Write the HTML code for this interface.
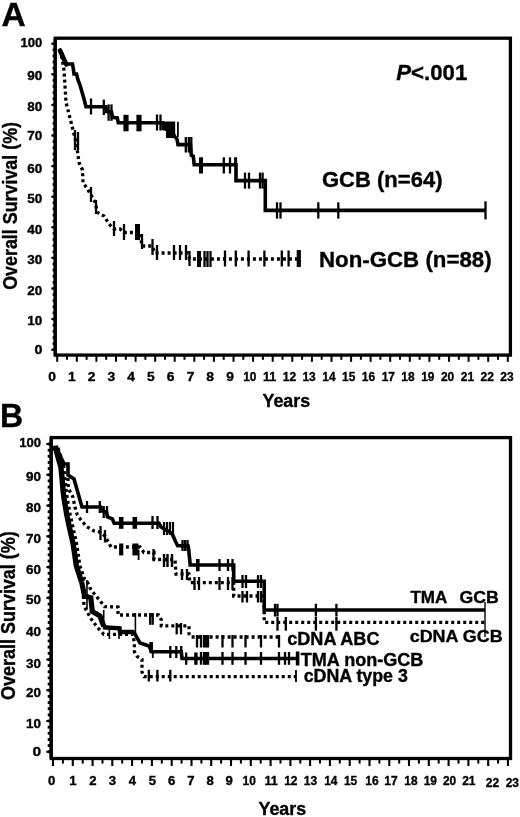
<!DOCTYPE html>
<html><head><meta charset="utf-8"><title>Overall survival</title>
<style>
html,body{margin:0;padding:0;background:#fff;}
svg{display:block;will-change:transform;}
text{font-family:"Liberation Sans",sans-serif;font-weight:bold;fill:#000;stroke:#000;stroke-width:0.35px;}
</style></head>
<body>
<svg width="520" height="817" viewBox="0 0 520 817">
<rect width="520" height="817" fill="#fff"/>
<text x="1.4" y="26.4" font-size="32.5" text-anchor="start" textLength="24.2" lengthAdjust="spacingAndGlyphs">A</text>
<rect x="55.3" y="38.2" width="455.09999999999997" height="316.90000000000003" fill="none" stroke="#000" stroke-width="3.3"/>
<line x1="54.6" y1="38.2" x2="54.6" y2="355.1" stroke="#000" stroke-width="2"/>
<line x1="51.3" y1="349.7" x2="55.3" y2="349.7" stroke="#000" stroke-width="2"/>
<text x="42.3" y="353.7" font-size="13" text-anchor="end" textLength="7.9" lengthAdjust="spacingAndGlyphs">0</text>
<line x1="51.3" y1="319.1" x2="55.3" y2="319.1" stroke="#000" stroke-width="2"/>
<text x="42.3" y="325.4" font-size="13" text-anchor="end" textLength="15.0" lengthAdjust="spacingAndGlyphs">10</text>
<line x1="51.3" y1="288.5" x2="55.3" y2="288.5" stroke="#000" stroke-width="2"/>
<text x="42.3" y="295.2" font-size="13" text-anchor="end" textLength="15.0" lengthAdjust="spacingAndGlyphs">20</text>
<line x1="51.3" y1="257.9" x2="55.3" y2="257.9" stroke="#000" stroke-width="2"/>
<text x="42.3" y="264.3" font-size="13" text-anchor="end" textLength="15.0" lengthAdjust="spacingAndGlyphs">30</text>
<line x1="51.3" y1="227.3" x2="55.3" y2="227.3" stroke="#000" stroke-width="2"/>
<text x="42.3" y="233.7" font-size="13" text-anchor="end" textLength="15.0" lengthAdjust="spacingAndGlyphs">40</text>
<line x1="51.3" y1="196.7" x2="55.3" y2="196.7" stroke="#000" stroke-width="2"/>
<text x="42.3" y="202.7" font-size="13" text-anchor="end" textLength="15.0" lengthAdjust="spacingAndGlyphs">50</text>
<line x1="51.3" y1="166.1" x2="55.3" y2="166.1" stroke="#000" stroke-width="2"/>
<text x="42.3" y="173.1" font-size="13" text-anchor="end" textLength="15.0" lengthAdjust="spacingAndGlyphs">60</text>
<line x1="51.3" y1="135.5" x2="55.3" y2="135.5" stroke="#000" stroke-width="2"/>
<text x="42.3" y="139.9" font-size="13" text-anchor="end" textLength="15.0" lengthAdjust="spacingAndGlyphs">70</text>
<line x1="51.3" y1="104.9" x2="55.3" y2="104.9" stroke="#000" stroke-width="2"/>
<text x="42.3" y="110.9" font-size="13" text-anchor="end" textLength="15.0" lengthAdjust="spacingAndGlyphs">80</text>
<line x1="51.3" y1="74.3" x2="55.3" y2="74.3" stroke="#000" stroke-width="2"/>
<text x="42.3" y="80.1" font-size="13" text-anchor="end" textLength="15.0" lengthAdjust="spacingAndGlyphs">90</text>
<line x1="51.3" y1="43.7" x2="55.3" y2="43.7" stroke="#000" stroke-width="2"/>
<text x="42.3" y="47.2" font-size="13" text-anchor="end" textLength="21.8" lengthAdjust="spacingAndGlyphs">100</text>
<line x1="52.6" y1="349.7" x2="55.3" y2="349.7" stroke="#000" stroke-width="2.6"/>
<line x1="52.6" y1="343.6" x2="55.3" y2="343.6" stroke="#000" stroke-width="2.6"/>
<line x1="52.6" y1="337.5" x2="55.3" y2="337.5" stroke="#000" stroke-width="2.6"/>
<line x1="52.6" y1="331.3" x2="55.3" y2="331.3" stroke="#000" stroke-width="2.6"/>
<line x1="52.6" y1="325.2" x2="55.3" y2="325.2" stroke="#000" stroke-width="2.6"/>
<line x1="52.6" y1="319.1" x2="55.3" y2="319.1" stroke="#000" stroke-width="2.6"/>
<line x1="52.6" y1="313.0" x2="55.3" y2="313.0" stroke="#000" stroke-width="2.6"/>
<line x1="52.6" y1="306.9" x2="55.3" y2="306.9" stroke="#000" stroke-width="2.6"/>
<line x1="52.6" y1="300.7" x2="55.3" y2="300.7" stroke="#000" stroke-width="2.6"/>
<line x1="52.6" y1="294.6" x2="55.3" y2="294.6" stroke="#000" stroke-width="2.6"/>
<line x1="52.6" y1="288.5" x2="55.3" y2="288.5" stroke="#000" stroke-width="2.6"/>
<line x1="52.6" y1="282.4" x2="55.3" y2="282.4" stroke="#000" stroke-width="2.6"/>
<line x1="52.6" y1="276.3" x2="55.3" y2="276.3" stroke="#000" stroke-width="2.6"/>
<line x1="52.6" y1="270.1" x2="55.3" y2="270.1" stroke="#000" stroke-width="2.6"/>
<line x1="52.6" y1="264.0" x2="55.3" y2="264.0" stroke="#000" stroke-width="2.6"/>
<line x1="52.6" y1="257.9" x2="55.3" y2="257.9" stroke="#000" stroke-width="2.6"/>
<line x1="52.6" y1="251.8" x2="55.3" y2="251.8" stroke="#000" stroke-width="2.6"/>
<line x1="52.6" y1="245.7" x2="55.3" y2="245.7" stroke="#000" stroke-width="2.6"/>
<line x1="52.6" y1="239.5" x2="55.3" y2="239.5" stroke="#000" stroke-width="2.6"/>
<line x1="52.6" y1="233.4" x2="55.3" y2="233.4" stroke="#000" stroke-width="2.6"/>
<line x1="52.6" y1="227.3" x2="55.3" y2="227.3" stroke="#000" stroke-width="2.6"/>
<line x1="52.6" y1="221.2" x2="55.3" y2="221.2" stroke="#000" stroke-width="2.6"/>
<line x1="52.6" y1="215.1" x2="55.3" y2="215.1" stroke="#000" stroke-width="2.6"/>
<line x1="52.6" y1="208.9" x2="55.3" y2="208.9" stroke="#000" stroke-width="2.6"/>
<line x1="52.6" y1="202.8" x2="55.3" y2="202.8" stroke="#000" stroke-width="2.6"/>
<line x1="52.6" y1="196.7" x2="55.3" y2="196.7" stroke="#000" stroke-width="2.6"/>
<line x1="52.6" y1="190.6" x2="55.3" y2="190.6" stroke="#000" stroke-width="2.6"/>
<line x1="52.6" y1="184.5" x2="55.3" y2="184.5" stroke="#000" stroke-width="2.6"/>
<line x1="52.6" y1="178.3" x2="55.3" y2="178.3" stroke="#000" stroke-width="2.6"/>
<line x1="52.6" y1="172.2" x2="55.3" y2="172.2" stroke="#000" stroke-width="2.6"/>
<line x1="52.6" y1="166.1" x2="55.3" y2="166.1" stroke="#000" stroke-width="2.6"/>
<line x1="52.6" y1="160.0" x2="55.3" y2="160.0" stroke="#000" stroke-width="2.6"/>
<line x1="52.6" y1="153.9" x2="55.3" y2="153.9" stroke="#000" stroke-width="2.6"/>
<line x1="52.6" y1="147.7" x2="55.3" y2="147.7" stroke="#000" stroke-width="2.6"/>
<line x1="52.6" y1="141.6" x2="55.3" y2="141.6" stroke="#000" stroke-width="2.6"/>
<line x1="52.6" y1="135.5" x2="55.3" y2="135.5" stroke="#000" stroke-width="2.6"/>
<line x1="52.6" y1="129.4" x2="55.3" y2="129.4" stroke="#000" stroke-width="2.6"/>
<line x1="52.6" y1="123.3" x2="55.3" y2="123.3" stroke="#000" stroke-width="2.6"/>
<line x1="52.6" y1="117.1" x2="55.3" y2="117.1" stroke="#000" stroke-width="2.6"/>
<line x1="52.6" y1="111.0" x2="55.3" y2="111.0" stroke="#000" stroke-width="2.6"/>
<line x1="52.6" y1="104.9" x2="55.3" y2="104.9" stroke="#000" stroke-width="2.6"/>
<line x1="52.6" y1="98.8" x2="55.3" y2="98.8" stroke="#000" stroke-width="2.6"/>
<line x1="52.6" y1="92.7" x2="55.3" y2="92.7" stroke="#000" stroke-width="2.6"/>
<line x1="52.6" y1="86.5" x2="55.3" y2="86.5" stroke="#000" stroke-width="2.6"/>
<line x1="52.6" y1="80.4" x2="55.3" y2="80.4" stroke="#000" stroke-width="2.6"/>
<line x1="52.6" y1="74.3" x2="55.3" y2="74.3" stroke="#000" stroke-width="2.6"/>
<line x1="52.6" y1="68.2" x2="55.3" y2="68.2" stroke="#000" stroke-width="2.6"/>
<line x1="52.6" y1="62.1" x2="55.3" y2="62.1" stroke="#000" stroke-width="2.6"/>
<line x1="52.6" y1="55.9" x2="55.3" y2="55.9" stroke="#000" stroke-width="2.6"/>
<line x1="52.6" y1="49.8" x2="55.3" y2="49.8" stroke="#000" stroke-width="2.6"/>
<line x1="52.6" y1="43.7" x2="55.3" y2="43.7" stroke="#000" stroke-width="2.6"/>
<line x1="57.2" y1="355.1" x2="57.2" y2="361.8" stroke="#000" stroke-width="2"/>
<line x1="67.0" y1="355.1" x2="67.0" y2="359.8" stroke="#000" stroke-width="2"/>
<text x="52.0" y="380.5" font-size="12.5" text-anchor="middle" textLength="7.7" lengthAdjust="spacingAndGlyphs">0</text>
<line x1="76.8" y1="355.1" x2="76.8" y2="361.8" stroke="#000" stroke-width="2"/>
<line x1="86.6" y1="355.1" x2="86.6" y2="359.8" stroke="#000" stroke-width="2"/>
<text x="71.8" y="380.5" font-size="12.5" text-anchor="middle" textLength="7.7" lengthAdjust="spacingAndGlyphs">1</text>
<line x1="96.4" y1="355.1" x2="96.4" y2="361.8" stroke="#000" stroke-width="2"/>
<line x1="106.2" y1="355.1" x2="106.2" y2="359.8" stroke="#000" stroke-width="2"/>
<text x="91.6" y="380.5" font-size="12.5" text-anchor="middle" textLength="7.7" lengthAdjust="spacingAndGlyphs">2</text>
<line x1="116.0" y1="355.1" x2="116.0" y2="361.8" stroke="#000" stroke-width="2"/>
<line x1="125.8" y1="355.1" x2="125.8" y2="359.8" stroke="#000" stroke-width="2"/>
<text x="111.3" y="380.5" font-size="12.5" text-anchor="middle" textLength="7.7" lengthAdjust="spacingAndGlyphs">3</text>
<line x1="135.6" y1="355.1" x2="135.6" y2="361.8" stroke="#000" stroke-width="2"/>
<line x1="145.4" y1="355.1" x2="145.4" y2="359.8" stroke="#000" stroke-width="2"/>
<text x="131.1" y="380.5" font-size="12.5" text-anchor="middle" textLength="7.7" lengthAdjust="spacingAndGlyphs">4</text>
<line x1="155.2" y1="355.1" x2="155.2" y2="361.8" stroke="#000" stroke-width="2"/>
<line x1="165.0" y1="355.1" x2="165.0" y2="359.8" stroke="#000" stroke-width="2"/>
<text x="150.9" y="380.5" font-size="12.5" text-anchor="middle" textLength="7.7" lengthAdjust="spacingAndGlyphs">5</text>
<line x1="174.7" y1="355.1" x2="174.7" y2="361.8" stroke="#000" stroke-width="2"/>
<line x1="184.5" y1="355.1" x2="184.5" y2="359.8" stroke="#000" stroke-width="2"/>
<text x="170.7" y="380.5" font-size="12.5" text-anchor="middle" textLength="7.7" lengthAdjust="spacingAndGlyphs">6</text>
<line x1="194.3" y1="355.1" x2="194.3" y2="361.8" stroke="#000" stroke-width="2"/>
<line x1="204.1" y1="355.1" x2="204.1" y2="359.8" stroke="#000" stroke-width="2"/>
<text x="190.5" y="380.5" font-size="12.5" text-anchor="middle" textLength="7.7" lengthAdjust="spacingAndGlyphs">7</text>
<line x1="213.9" y1="355.1" x2="213.9" y2="361.8" stroke="#000" stroke-width="2"/>
<line x1="223.7" y1="355.1" x2="223.7" y2="359.8" stroke="#000" stroke-width="2"/>
<text x="210.2" y="380.5" font-size="12.5" text-anchor="middle" textLength="7.7" lengthAdjust="spacingAndGlyphs">8</text>
<line x1="233.5" y1="355.1" x2="233.5" y2="361.8" stroke="#000" stroke-width="2"/>
<line x1="243.3" y1="355.1" x2="243.3" y2="359.8" stroke="#000" stroke-width="2"/>
<text x="230.0" y="380.5" font-size="12.5" text-anchor="middle" textLength="7.7" lengthAdjust="spacingAndGlyphs">9</text>
<line x1="253.1" y1="355.1" x2="253.1" y2="361.8" stroke="#000" stroke-width="2"/>
<line x1="262.9" y1="355.1" x2="262.9" y2="359.8" stroke="#000" stroke-width="2"/>
<text x="249.8" y="380.5" font-size="12.5" text-anchor="middle" textLength="13.3" lengthAdjust="spacingAndGlyphs">10</text>
<line x1="272.7" y1="355.1" x2="272.7" y2="361.8" stroke="#000" stroke-width="2"/>
<line x1="282.5" y1="355.1" x2="282.5" y2="359.8" stroke="#000" stroke-width="2"/>
<text x="269.6" y="380.5" font-size="12.5" text-anchor="middle" textLength="13.3" lengthAdjust="spacingAndGlyphs">11</text>
<line x1="292.3" y1="355.1" x2="292.3" y2="361.8" stroke="#000" stroke-width="2"/>
<line x1="302.1" y1="355.1" x2="302.1" y2="359.8" stroke="#000" stroke-width="2"/>
<text x="289.4" y="380.5" font-size="12.5" text-anchor="middle" textLength="13.3" lengthAdjust="spacingAndGlyphs">12</text>
<line x1="311.9" y1="355.1" x2="311.9" y2="361.8" stroke="#000" stroke-width="2"/>
<line x1="321.7" y1="355.1" x2="321.7" y2="359.8" stroke="#000" stroke-width="2"/>
<text x="309.1" y="380.5" font-size="12.5" text-anchor="middle" textLength="13.3" lengthAdjust="spacingAndGlyphs">13</text>
<line x1="331.5" y1="355.1" x2="331.5" y2="361.8" stroke="#000" stroke-width="2"/>
<line x1="341.3" y1="355.1" x2="341.3" y2="359.8" stroke="#000" stroke-width="2"/>
<text x="328.9" y="380.5" font-size="12.5" text-anchor="middle" textLength="13.3" lengthAdjust="spacingAndGlyphs">14</text>
<line x1="351.1" y1="355.1" x2="351.1" y2="361.8" stroke="#000" stroke-width="2"/>
<line x1="360.9" y1="355.1" x2="360.9" y2="359.8" stroke="#000" stroke-width="2"/>
<text x="348.7" y="380.5" font-size="12.5" text-anchor="middle" textLength="13.3" lengthAdjust="spacingAndGlyphs">15</text>
<line x1="370.6" y1="355.1" x2="370.6" y2="361.8" stroke="#000" stroke-width="2"/>
<line x1="380.4" y1="355.1" x2="380.4" y2="359.8" stroke="#000" stroke-width="2"/>
<text x="368.5" y="380.5" font-size="12.5" text-anchor="middle" textLength="13.3" lengthAdjust="spacingAndGlyphs">16</text>
<line x1="390.2" y1="355.1" x2="390.2" y2="361.8" stroke="#000" stroke-width="2"/>
<line x1="400.0" y1="355.1" x2="400.0" y2="359.8" stroke="#000" stroke-width="2"/>
<text x="388.3" y="380.5" font-size="12.5" text-anchor="middle" textLength="13.3" lengthAdjust="spacingAndGlyphs">17</text>
<line x1="409.8" y1="355.1" x2="409.8" y2="361.8" stroke="#000" stroke-width="2"/>
<line x1="419.6" y1="355.1" x2="419.6" y2="359.8" stroke="#000" stroke-width="2"/>
<text x="408.0" y="380.5" font-size="12.5" text-anchor="middle" textLength="13.3" lengthAdjust="spacingAndGlyphs">18</text>
<line x1="429.4" y1="355.1" x2="429.4" y2="361.8" stroke="#000" stroke-width="2"/>
<line x1="439.2" y1="355.1" x2="439.2" y2="359.8" stroke="#000" stroke-width="2"/>
<text x="427.8" y="380.5" font-size="12.5" text-anchor="middle" textLength="13.3" lengthAdjust="spacingAndGlyphs">19</text>
<line x1="449.0" y1="355.1" x2="449.0" y2="361.8" stroke="#000" stroke-width="2"/>
<line x1="458.8" y1="355.1" x2="458.8" y2="359.8" stroke="#000" stroke-width="2"/>
<text x="447.6" y="380.5" font-size="12.5" text-anchor="middle" textLength="13.3" lengthAdjust="spacingAndGlyphs">20</text>
<line x1="468.6" y1="355.1" x2="468.6" y2="361.8" stroke="#000" stroke-width="2"/>
<line x1="478.4" y1="355.1" x2="478.4" y2="359.8" stroke="#000" stroke-width="2"/>
<text x="467.4" y="380.5" font-size="12.5" text-anchor="middle" textLength="13.3" lengthAdjust="spacingAndGlyphs">21</text>
<line x1="488.2" y1="355.1" x2="488.2" y2="361.8" stroke="#000" stroke-width="2"/>
<line x1="498.0" y1="355.1" x2="498.0" y2="359.8" stroke="#000" stroke-width="2"/>
<text x="487.2" y="380.5" font-size="12.5" text-anchor="middle" textLength="13.3" lengthAdjust="spacingAndGlyphs">22</text>
<line x1="507.8" y1="355.1" x2="507.8" y2="361.8" stroke="#000" stroke-width="2"/>
<text x="506.9" y="380.5" font-size="12.5" text-anchor="middle" textLength="13.3" lengthAdjust="spacingAndGlyphs">23</text>
<text x="262.5" y="407" font-size="17.5" text-anchor="start" textLength="47.7" lengthAdjust="spacingAndGlyphs">Years</text>
<text transform="translate(16.5,289.8) rotate(-90)" font-size="19.5" textLength="167.8" lengthAdjust="spacingAndGlyphs">Overall Survival (%)</text>
<text x="396.3" y="80.4" font-size="22" textLength="71" lengthAdjust="spacingAndGlyphs"><tspan font-style="italic">P</tspan>&lt;.001</text>
<text x="322" y="187" font-size="21.5" text-anchor="start" textLength="120.5" lengthAdjust="spacingAndGlyphs">GCB (n=64)</text>
<text x="319" y="267.2" font-size="21.5" text-anchor="start" textLength="172.6" lengthAdjust="spacingAndGlyphs">Non-GCB (n=88)</text>
<polyline points="60,50 62,54 63,58 65,61 66,64 72.5,64 73.5,70 74,74 76.5,74 78,80 80,85 82,92 84,99 86,106.8 105.8,106.8 106.7,111.5 111.5,112 112.5,117.3 117.3,117.9 118.3,122.7 163,122.7 164,127 168,129 172,132 175,137 177,139 178,144.6 190.4,144.6 191.3,155.4 193.3,156.3 194.2,164.7 236,164.7 236,180.6 265.3,180.6 265.3,210.4 485.5,210.4" fill="none" stroke="#000" stroke-width="3.6" stroke-linejoin="miter"/>
<polyline points="60,50.5 62.5,56 64.5,60.5 66.4,64.5" fill="none" stroke="#000" stroke-width="4.6" stroke-linejoin="miter" stroke-linecap="round"/>
<line x1="91" y1="98.5" x2="91" y2="114.5" stroke="#000" stroke-width="2.3"/>
<line x1="103.8" y1="99.6" x2="103.8" y2="115" stroke="#000" stroke-width="2.3"/>
<line x1="108.6" y1="104.4" x2="108.6" y2="120.8" stroke="#000" stroke-width="2.3"/><line x1="111.5" y1="104.4" x2="111.5" y2="120.8" stroke="#000" stroke-width="2.3"/>
<line x1="126" y1="114.8" x2="126" y2="131.3" stroke="#000" stroke-width="5.2"/><line x1="139" y1="114.8" x2="139" y2="131.3" stroke="#000" stroke-width="5.2"/>
<line x1="157" y1="114.5" x2="157" y2="130.5" stroke="#000" stroke-width="2.3"/><line x1="160.5" y1="114.5" x2="160.5" y2="130.5" stroke="#000" stroke-width="2.3"/>
<polygon points="161.5,122 166,121.5 175.2,121.5 175.2,138 166,138 166,131 161.5,130" fill="#000"/>
<line x1="177.9" y1="121.7" x2="177.9" y2="137" stroke="#000" stroke-width="1.8"/>
<line x1="185.8" y1="137" x2="185.8" y2="152.5" stroke="#000" stroke-width="2.3"/><line x1="188.8" y1="137" x2="188.8" y2="152.5" stroke="#000" stroke-width="2.3"/><line x1="191.3" y1="137" x2="191.3" y2="152.5" stroke="#000" stroke-width="2.3"/>
<line x1="201" y1="157.3" x2="201" y2="173.5" stroke="#000" stroke-width="4"/>
<line x1="223.8" y1="157.3" x2="223.8" y2="173.5" stroke="#000" stroke-width="2.3"/><line x1="230" y1="157.3" x2="230" y2="173.5" stroke="#000" stroke-width="2.3"/>
<line x1="235.6" y1="157.3" x2="235.6" y2="166" stroke="#000" stroke-width="3"/>
<line x1="245" y1="172.6" x2="245" y2="188.6" stroke="#000" stroke-width="2.3"/><line x1="249" y1="172.6" x2="249" y2="188.6" stroke="#000" stroke-width="2.3"/><line x1="260" y1="172.6" x2="260" y2="188.6" stroke="#000" stroke-width="2.3"/><line x1="262.6" y1="172.6" x2="262.6" y2="188.6" stroke="#000" stroke-width="2.3"/>
<line x1="277" y1="202.3" x2="277" y2="218.6" stroke="#000" stroke-width="2.3"/><line x1="280.5" y1="202.3" x2="280.5" y2="218.6" stroke="#000" stroke-width="2.3"/><line x1="318.3" y1="202.3" x2="318.3" y2="218.6" stroke="#000" stroke-width="2.3"/><line x1="338.3" y1="202.3" x2="338.3" y2="218.6" stroke="#000" stroke-width="2.3"/>
<line x1="485.5" y1="201.3" x2="485.5" y2="219.4" stroke="#000" stroke-width="2.3"/>
<polyline points="60,50 62,58 64,70 65,86 66,102.5 70,118 74,134 76,142 78,155 79,162.5 82.5,170 83,182.5 87.5,189 91,195 95,202 97.5,212.5 104,216 109,224 114,229 120,229 124,232.5 140,232.5 142,246 152,246 155,253 188,253 189.5,259 299,259" fill="none" stroke="#000" stroke-width="3.3" stroke-linejoin="miter" stroke-dasharray="3 3"/>
<line x1="75" y1="130" x2="75" y2="150" stroke="#000" stroke-width="2.3"/>
<line x1="78" y1="132" x2="78" y2="150" stroke="#000" stroke-width="2.3"/>
<line x1="91" y1="187" x2="91" y2="202" stroke="#000" stroke-width="2.3"/>
<line x1="96" y1="200" x2="96" y2="214" stroke="#000" stroke-width="2.3"/>
<line x1="114" y1="221" x2="114" y2="236" stroke="#000" stroke-width="2.3"/>
<line x1="124" y1="224" x2="124" y2="240" stroke="#000" stroke-width="2.3"/>
<line x1="137.5" y1="224" x2="137.5" y2="240" stroke="#000" stroke-width="5"/>
<line x1="142" y1="234" x2="142" y2="249" stroke="#000" stroke-width="2.3"/>
<line x1="152.5" y1="239" x2="152.5" y2="255" stroke="#000" stroke-width="2.3"/>
<line x1="157" y1="245" x2="157" y2="260" stroke="#000" stroke-width="2.3"/><line x1="174" y1="245" x2="174" y2="260" stroke="#000" stroke-width="2.3"/><line x1="180" y1="245" x2="180" y2="260" stroke="#000" stroke-width="2.3"/><line x1="186" y1="245" x2="186" y2="260" stroke="#000" stroke-width="2.3"/>
<line x1="189.5" y1="251" x2="189.5" y2="266" stroke="#000" stroke-width="2.3"/>
<line x1="199" y1="251" x2="199" y2="267" stroke="#000" stroke-width="4"/>
<line x1="204.5" y1="251" x2="204.5" y2="267" stroke="#000" stroke-width="2.3"/><line x1="207.5" y1="251" x2="207.5" y2="267" stroke="#000" stroke-width="2.3"/>
<line x1="210.5" y1="251" x2="210.5" y2="267" stroke="#000" stroke-width="2.2"/>
<line x1="225" y1="250.5" x2="225" y2="266.5" stroke="#000" stroke-width="2.3"/><line x1="235.8" y1="250.5" x2="235.8" y2="266.5" stroke="#000" stroke-width="2.3"/><line x1="248.6" y1="250.5" x2="248.6" y2="266.5" stroke="#000" stroke-width="2.3"/><line x1="264.4" y1="250.5" x2="264.4" y2="266.5" stroke="#000" stroke-width="2.3"/><line x1="281.8" y1="250.5" x2="281.8" y2="266.5" stroke="#000" stroke-width="2.3"/><line x1="288.6" y1="250.5" x2="288.6" y2="266.5" stroke="#000" stroke-width="2.3"/>
<line x1="298.8" y1="250" x2="298.8" y2="267" stroke="#000" stroke-width="4.2"/>
<text x="-0.1" y="427.3" font-size="33" text-anchor="start" textLength="23.2" lengthAdjust="spacingAndGlyphs">B</text>
<rect x="51.3" y="437.6" width="459.2" height="320.9" fill="none" stroke="#000" stroke-width="3.3"/>
<line x1="50.5" y1="437.6" x2="50.5" y2="758.5" stroke="#000" stroke-width="2"/>
<line x1="46.3" y1="751.8" x2="51.3" y2="751.8" stroke="#000" stroke-width="2"/>
<text x="41.0" y="756.2" font-size="13" text-anchor="end" textLength="8.6" lengthAdjust="spacingAndGlyphs">0</text>
<line x1="46.3" y1="721.0" x2="51.3" y2="721.0" stroke="#000" stroke-width="2"/>
<text x="41.0" y="727.5" font-size="13" text-anchor="end" textLength="15.0" lengthAdjust="spacingAndGlyphs">10</text>
<line x1="46.3" y1="690.2" x2="51.3" y2="690.2" stroke="#000" stroke-width="2"/>
<text x="41.0" y="696.8" font-size="13" text-anchor="end" textLength="15.0" lengthAdjust="spacingAndGlyphs">20</text>
<line x1="46.3" y1="659.5" x2="51.3" y2="659.5" stroke="#000" stroke-width="2"/>
<text x="41.0" y="668.4" font-size="13" text-anchor="end" textLength="15.0" lengthAdjust="spacingAndGlyphs">30</text>
<line x1="46.3" y1="628.7" x2="51.3" y2="628.7" stroke="#000" stroke-width="2"/>
<text x="41.0" y="635.7" font-size="13" text-anchor="end" textLength="15.0" lengthAdjust="spacingAndGlyphs">40</text>
<line x1="46.3" y1="597.9" x2="51.3" y2="597.9" stroke="#000" stroke-width="2"/>
<text x="41.0" y="604.2" font-size="13" text-anchor="end" textLength="15.0" lengthAdjust="spacingAndGlyphs">50</text>
<line x1="46.3" y1="567.1" x2="51.3" y2="567.1" stroke="#000" stroke-width="2"/>
<text x="41.0" y="573.5" font-size="13" text-anchor="end" textLength="15.0" lengthAdjust="spacingAndGlyphs">60</text>
<line x1="46.3" y1="536.3" x2="51.3" y2="536.3" stroke="#000" stroke-width="2"/>
<text x="41.0" y="542.8" font-size="13" text-anchor="end" textLength="15.0" lengthAdjust="spacingAndGlyphs">70</text>
<line x1="46.3" y1="505.6" x2="51.3" y2="505.6" stroke="#000" stroke-width="2"/>
<text x="41.0" y="511.9" font-size="13" text-anchor="end" textLength="15.0" lengthAdjust="spacingAndGlyphs">80</text>
<line x1="46.3" y1="474.8" x2="51.3" y2="474.8" stroke="#000" stroke-width="2"/>
<text x="41.0" y="481.0" font-size="13" text-anchor="end" textLength="15.0" lengthAdjust="spacingAndGlyphs">90</text>
<line x1="46.3" y1="444.0" x2="51.3" y2="444.0" stroke="#000" stroke-width="2"/>
<text x="41.0" y="447.2" font-size="13" text-anchor="end" textLength="21.8" lengthAdjust="spacingAndGlyphs">100</text>
<line x1="47.7" y1="751.8" x2="51.3" y2="751.8" stroke="#000" stroke-width="2.8"/>
<line x1="47.7" y1="745.6" x2="51.3" y2="745.6" stroke="#000" stroke-width="2.8"/>
<line x1="47.7" y1="739.5" x2="51.3" y2="739.5" stroke="#000" stroke-width="2.8"/>
<line x1="47.7" y1="733.3" x2="51.3" y2="733.3" stroke="#000" stroke-width="2.8"/>
<line x1="47.7" y1="727.2" x2="51.3" y2="727.2" stroke="#000" stroke-width="2.8"/>
<line x1="47.7" y1="721.0" x2="51.3" y2="721.0" stroke="#000" stroke-width="2.8"/>
<line x1="47.7" y1="714.9" x2="51.3" y2="714.9" stroke="#000" stroke-width="2.8"/>
<line x1="47.7" y1="708.7" x2="51.3" y2="708.7" stroke="#000" stroke-width="2.8"/>
<line x1="47.7" y1="702.6" x2="51.3" y2="702.6" stroke="#000" stroke-width="2.8"/>
<line x1="47.7" y1="696.4" x2="51.3" y2="696.4" stroke="#000" stroke-width="2.8"/>
<line x1="47.7" y1="690.2" x2="51.3" y2="690.2" stroke="#000" stroke-width="2.8"/>
<line x1="47.7" y1="684.1" x2="51.3" y2="684.1" stroke="#000" stroke-width="2.8"/>
<line x1="47.7" y1="677.9" x2="51.3" y2="677.9" stroke="#000" stroke-width="2.8"/>
<line x1="47.7" y1="671.8" x2="51.3" y2="671.8" stroke="#000" stroke-width="2.8"/>
<line x1="47.7" y1="665.6" x2="51.3" y2="665.6" stroke="#000" stroke-width="2.8"/>
<line x1="47.7" y1="659.5" x2="51.3" y2="659.5" stroke="#000" stroke-width="2.8"/>
<line x1="47.7" y1="653.3" x2="51.3" y2="653.3" stroke="#000" stroke-width="2.8"/>
<line x1="47.7" y1="647.1" x2="51.3" y2="647.1" stroke="#000" stroke-width="2.8"/>
<line x1="47.7" y1="641.0" x2="51.3" y2="641.0" stroke="#000" stroke-width="2.8"/>
<line x1="47.7" y1="634.8" x2="51.3" y2="634.8" stroke="#000" stroke-width="2.8"/>
<line x1="47.7" y1="628.7" x2="51.3" y2="628.7" stroke="#000" stroke-width="2.8"/>
<line x1="47.7" y1="622.5" x2="51.3" y2="622.5" stroke="#000" stroke-width="2.8"/>
<line x1="47.7" y1="616.4" x2="51.3" y2="616.4" stroke="#000" stroke-width="2.8"/>
<line x1="47.7" y1="610.2" x2="51.3" y2="610.2" stroke="#000" stroke-width="2.8"/>
<line x1="47.7" y1="604.1" x2="51.3" y2="604.1" stroke="#000" stroke-width="2.8"/>
<line x1="47.7" y1="597.9" x2="51.3" y2="597.9" stroke="#000" stroke-width="2.8"/>
<line x1="47.7" y1="591.7" x2="51.3" y2="591.7" stroke="#000" stroke-width="2.8"/>
<line x1="47.7" y1="585.6" x2="51.3" y2="585.6" stroke="#000" stroke-width="2.8"/>
<line x1="47.7" y1="579.4" x2="51.3" y2="579.4" stroke="#000" stroke-width="2.8"/>
<line x1="47.7" y1="573.3" x2="51.3" y2="573.3" stroke="#000" stroke-width="2.8"/>
<line x1="47.7" y1="567.1" x2="51.3" y2="567.1" stroke="#000" stroke-width="2.8"/>
<line x1="47.7" y1="561.0" x2="51.3" y2="561.0" stroke="#000" stroke-width="2.8"/>
<line x1="47.7" y1="554.8" x2="51.3" y2="554.8" stroke="#000" stroke-width="2.8"/>
<line x1="47.7" y1="548.7" x2="51.3" y2="548.7" stroke="#000" stroke-width="2.8"/>
<line x1="47.7" y1="542.5" x2="51.3" y2="542.5" stroke="#000" stroke-width="2.8"/>
<line x1="47.7" y1="536.3" x2="51.3" y2="536.3" stroke="#000" stroke-width="2.8"/>
<line x1="47.7" y1="530.2" x2="51.3" y2="530.2" stroke="#000" stroke-width="2.8"/>
<line x1="47.7" y1="524.0" x2="51.3" y2="524.0" stroke="#000" stroke-width="2.8"/>
<line x1="47.7" y1="517.9" x2="51.3" y2="517.9" stroke="#000" stroke-width="2.8"/>
<line x1="47.7" y1="511.7" x2="51.3" y2="511.7" stroke="#000" stroke-width="2.8"/>
<line x1="47.7" y1="505.6" x2="51.3" y2="505.6" stroke="#000" stroke-width="2.8"/>
<line x1="47.7" y1="499.4" x2="51.3" y2="499.4" stroke="#000" stroke-width="2.8"/>
<line x1="47.7" y1="493.2" x2="51.3" y2="493.2" stroke="#000" stroke-width="2.8"/>
<line x1="47.7" y1="487.1" x2="51.3" y2="487.1" stroke="#000" stroke-width="2.8"/>
<line x1="47.7" y1="480.9" x2="51.3" y2="480.9" stroke="#000" stroke-width="2.8"/>
<line x1="47.7" y1="474.8" x2="51.3" y2="474.8" stroke="#000" stroke-width="2.8"/>
<line x1="47.7" y1="468.6" x2="51.3" y2="468.6" stroke="#000" stroke-width="2.8"/>
<line x1="47.7" y1="462.5" x2="51.3" y2="462.5" stroke="#000" stroke-width="2.8"/>
<line x1="47.7" y1="456.3" x2="51.3" y2="456.3" stroke="#000" stroke-width="2.8"/>
<line x1="47.7" y1="450.2" x2="51.3" y2="450.2" stroke="#000" stroke-width="2.8"/>
<line x1="47.7" y1="444.0" x2="51.3" y2="444.0" stroke="#000" stroke-width="2.8"/>
<line x1="53.0" y1="758.5" x2="53.0" y2="766" stroke="#000" stroke-width="2.1"/>
<line x1="62.9" y1="758.5" x2="62.9" y2="763.6" stroke="#000" stroke-width="2"/>
<text x="51.7" y="785.2" font-size="12.5" text-anchor="middle" textLength="7.3" lengthAdjust="spacingAndGlyphs">0</text>
<line x1="72.8" y1="758.5" x2="72.8" y2="766" stroke="#000" stroke-width="2.1"/>
<line x1="82.7" y1="758.5" x2="82.7" y2="763.6" stroke="#000" stroke-width="2"/>
<text x="72.9" y="785.2" font-size="12.5" text-anchor="middle" textLength="7.3" lengthAdjust="spacingAndGlyphs">1</text>
<line x1="92.6" y1="758.5" x2="92.6" y2="766" stroke="#000" stroke-width="2.1"/>
<line x1="102.5" y1="758.5" x2="102.5" y2="763.6" stroke="#000" stroke-width="2"/>
<text x="92.9" y="785.2" font-size="12.5" text-anchor="middle" textLength="7.3" lengthAdjust="spacingAndGlyphs">2</text>
<line x1="112.3" y1="758.5" x2="112.3" y2="766" stroke="#000" stroke-width="2.1"/>
<line x1="122.2" y1="758.5" x2="122.2" y2="763.6" stroke="#000" stroke-width="2"/>
<text x="112.3" y="785.2" font-size="12.5" text-anchor="middle" textLength="7.3" lengthAdjust="spacingAndGlyphs">3</text>
<line x1="132.1" y1="758.5" x2="132.1" y2="766" stroke="#000" stroke-width="2.1"/>
<line x1="142.0" y1="758.5" x2="142.0" y2="763.6" stroke="#000" stroke-width="2"/>
<text x="132.3" y="785.2" font-size="12.5" text-anchor="middle" textLength="7.3" lengthAdjust="spacingAndGlyphs">4</text>
<line x1="151.9" y1="758.5" x2="151.9" y2="766" stroke="#000" stroke-width="2.1"/>
<line x1="161.8" y1="758.5" x2="161.8" y2="763.6" stroke="#000" stroke-width="2"/>
<text x="152.3" y="785.2" font-size="12.5" text-anchor="middle" textLength="7.3" lengthAdjust="spacingAndGlyphs">5</text>
<line x1="171.7" y1="758.5" x2="171.7" y2="766" stroke="#000" stroke-width="2.1"/>
<line x1="181.6" y1="758.5" x2="181.6" y2="763.6" stroke="#000" stroke-width="2"/>
<text x="171.7" y="785.2" font-size="12.5" text-anchor="middle" textLength="7.3" lengthAdjust="spacingAndGlyphs">6</text>
<line x1="191.5" y1="758.5" x2="191.5" y2="766" stroke="#000" stroke-width="2.1"/>
<line x1="201.4" y1="758.5" x2="201.4" y2="763.6" stroke="#000" stroke-width="2"/>
<text x="190.8" y="785.2" font-size="12.5" text-anchor="middle" textLength="7.3" lengthAdjust="spacingAndGlyphs">7</text>
<line x1="211.2" y1="758.5" x2="211.2" y2="766" stroke="#000" stroke-width="2.1"/>
<line x1="221.1" y1="758.5" x2="221.1" y2="763.6" stroke="#000" stroke-width="2"/>
<text x="210.2" y="785.2" font-size="12.5" text-anchor="middle" textLength="7.3" lengthAdjust="spacingAndGlyphs">8</text>
<line x1="231.0" y1="758.5" x2="231.0" y2="766" stroke="#000" stroke-width="2.1"/>
<line x1="240.9" y1="758.5" x2="240.9" y2="763.6" stroke="#000" stroke-width="2"/>
<text x="229.2" y="785.2" font-size="12.5" text-anchor="middle" textLength="7.3" lengthAdjust="spacingAndGlyphs">9</text>
<line x1="250.8" y1="758.5" x2="250.8" y2="766" stroke="#000" stroke-width="2.1"/>
<line x1="260.7" y1="758.5" x2="260.7" y2="763.6" stroke="#000" stroke-width="2"/>
<text x="249.2" y="785.2" font-size="12.5" text-anchor="middle" textLength="13.3" lengthAdjust="spacingAndGlyphs">10</text>
<line x1="270.6" y1="758.5" x2="270.6" y2="766" stroke="#000" stroke-width="2.1"/>
<line x1="280.5" y1="758.5" x2="280.5" y2="763.6" stroke="#000" stroke-width="2"/>
<text x="271.2" y="785.2" font-size="12.5" text-anchor="middle" textLength="13.3" lengthAdjust="spacingAndGlyphs">11</text>
<line x1="290.4" y1="758.5" x2="290.4" y2="766" stroke="#000" stroke-width="2.1"/>
<line x1="300.3" y1="758.5" x2="300.3" y2="763.6" stroke="#000" stroke-width="2"/>
<text x="290.8" y="785.2" font-size="12.5" text-anchor="middle" textLength="13.3" lengthAdjust="spacingAndGlyphs">12</text>
<line x1="310.1" y1="758.5" x2="310.1" y2="766" stroke="#000" stroke-width="2.1"/>
<line x1="320.0" y1="758.5" x2="320.0" y2="763.6" stroke="#000" stroke-width="2"/>
<text x="310.4" y="785.2" font-size="12.5" text-anchor="middle" textLength="13.3" lengthAdjust="spacingAndGlyphs">13</text>
<line x1="329.9" y1="758.5" x2="329.9" y2="766" stroke="#000" stroke-width="2.1"/>
<line x1="339.8" y1="758.5" x2="339.8" y2="763.6" stroke="#000" stroke-width="2"/>
<text x="330.8" y="785.2" font-size="12.5" text-anchor="middle" textLength="13.3" lengthAdjust="spacingAndGlyphs">14</text>
<line x1="349.7" y1="758.5" x2="349.7" y2="766" stroke="#000" stroke-width="2.1"/>
<line x1="359.6" y1="758.5" x2="359.6" y2="763.6" stroke="#000" stroke-width="2"/>
<text x="350.6" y="785.2" font-size="12.5" text-anchor="middle" textLength="13.3" lengthAdjust="spacingAndGlyphs">15</text>
<line x1="369.5" y1="758.5" x2="369.5" y2="766" stroke="#000" stroke-width="2.1"/>
<line x1="379.4" y1="758.5" x2="379.4" y2="763.6" stroke="#000" stroke-width="2"/>
<text x="372.0" y="785.2" font-size="12.5" text-anchor="middle" textLength="13.3" lengthAdjust="spacingAndGlyphs">16</text>
<line x1="389.3" y1="758.5" x2="389.3" y2="766" stroke="#000" stroke-width="2.1"/>
<line x1="399.2" y1="758.5" x2="399.2" y2="763.6" stroke="#000" stroke-width="2"/>
<text x="390.9" y="785.2" font-size="12.5" text-anchor="middle" textLength="13.3" lengthAdjust="spacingAndGlyphs">17</text>
<line x1="409.0" y1="758.5" x2="409.0" y2="766" stroke="#000" stroke-width="2.1"/>
<line x1="418.9" y1="758.5" x2="418.9" y2="763.6" stroke="#000" stroke-width="2"/>
<text x="411" y="785.2" font-size="12.5" text-anchor="middle" textLength="13.3" lengthAdjust="spacingAndGlyphs">18</text>
<line x1="428.8" y1="758.5" x2="428.8" y2="766" stroke="#000" stroke-width="2.1"/>
<line x1="438.7" y1="758.5" x2="438.7" y2="763.6" stroke="#000" stroke-width="2"/>
<text x="430.3" y="785.2" font-size="12.5" text-anchor="middle" textLength="13.3" lengthAdjust="spacingAndGlyphs">19</text>
<line x1="448.6" y1="758.5" x2="448.6" y2="766" stroke="#000" stroke-width="2.1"/>
<line x1="458.5" y1="758.5" x2="458.5" y2="763.6" stroke="#000" stroke-width="2"/>
<text x="449.6" y="785.2" font-size="12.5" text-anchor="middle" textLength="13.3" lengthAdjust="spacingAndGlyphs">20</text>
<line x1="468.4" y1="758.5" x2="468.4" y2="766" stroke="#000" stroke-width="2.1"/>
<line x1="478.3" y1="758.5" x2="478.3" y2="763.6" stroke="#000" stroke-width="2"/>
<text x="468.8" y="785.2" font-size="12.5" text-anchor="middle" textLength="13.3" lengthAdjust="spacingAndGlyphs">21</text>
<line x1="488.2" y1="758.5" x2="488.2" y2="766" stroke="#000" stroke-width="2.1"/>
<line x1="498.1" y1="758.5" x2="498.1" y2="763.6" stroke="#000" stroke-width="2"/>
<text x="492.5" y="787.3" font-size="12.5" text-anchor="middle" textLength="13.3" lengthAdjust="spacingAndGlyphs">22</text>
<line x1="507.9" y1="758.5" x2="507.9" y2="766" stroke="#000" stroke-width="2.1"/>
<text x="512.3" y="787.3" font-size="12.5" text-anchor="middle" textLength="13.3" lengthAdjust="spacingAndGlyphs">23</text>
<text x="258.5" y="814.8" font-size="17.5" text-anchor="start" textLength="47.7" lengthAdjust="spacingAndGlyphs">Years</text>
<text transform="translate(15.2,700) rotate(-90)" font-size="19.5" textLength="168.8" lengthAdjust="spacingAndGlyphs">Overall Survival (%)</text>
<polyline points="53.5,446 57,453 60,459 62.7,464 68,464 68,475 74,479 76,486 78,493 80,500 82,507 100.8,507 102.7,511.2 106.5,512 107.5,517 112.3,518.8 114.2,523.3 159,523.3 161,527 166,530 172,533.5 175.8,542 177.7,545.8 188,545.8 188.5,548 190.2,564.5 190.2,565 233.7,565 233.7,581.3 264.2,581.3 264.2,610 485,610" fill="none" stroke="#000" stroke-width="3.6" stroke-linejoin="miter"/>
<polyline points="55.5,446.5 58.5,454 61,459 63.4,464" fill="none" stroke="#000" stroke-width="5" stroke-linejoin="miter"/>
<line x1="87" y1="501" x2="87" y2="513" stroke="#000" stroke-width="2.3"/><line x1="99.8" y1="501" x2="99.8" y2="513" stroke="#000" stroke-width="2.3"/>
<line x1="103.7" y1="506" x2="103.7" y2="518" stroke="#000" stroke-width="2.3"/><line x1="107" y1="506" x2="107" y2="518" stroke="#000" stroke-width="2.3"/>
<line x1="121.2" y1="517" x2="121.2" y2="528.8" stroke="#000" stroke-width="4.6"/><line x1="134.8" y1="517" x2="134.8" y2="528.8" stroke="#000" stroke-width="4.6"/>
<line x1="152.5" y1="516" x2="152.5" y2="529" stroke="#000" stroke-width="2.3"/><line x1="157.5" y1="516" x2="157.5" y2="529" stroke="#000" stroke-width="2.3"/>
<line x1="164" y1="522" x2="164" y2="535" stroke="#000" stroke-width="2.2"/><line x1="167" y1="522" x2="167" y2="535" stroke="#000" stroke-width="2.2"/><line x1="170" y1="522" x2="170" y2="535" stroke="#000" stroke-width="2.2"/><line x1="173" y1="522" x2="173" y2="535" stroke="#000" stroke-width="2.2"/>
<line x1="182.5" y1="540" x2="182.5" y2="551" stroke="#000" stroke-width="2.3"/><line x1="185" y1="540" x2="185" y2="551" stroke="#000" stroke-width="2.3"/><line x1="187.5" y1="540" x2="187.5" y2="551" stroke="#000" stroke-width="2.3"/>
<line x1="197.8" y1="559" x2="197.8" y2="571.3" stroke="#000" stroke-width="3.6"/>
<line x1="219.5" y1="559" x2="219.5" y2="571" stroke="#000" stroke-width="2.3"/><line x1="228" y1="559" x2="228" y2="571" stroke="#000" stroke-width="2.3"/><line x1="232.5" y1="559" x2="232.5" y2="571" stroke="#000" stroke-width="2.3"/>
<line x1="242.5" y1="575" x2="242.5" y2="588" stroke="#000" stroke-width="2.3"/><line x1="246" y1="575" x2="246" y2="588" stroke="#000" stroke-width="2.3"/><line x1="258" y1="575" x2="258" y2="588" stroke="#000" stroke-width="2.3"/><line x1="261" y1="575" x2="261" y2="588" stroke="#000" stroke-width="2.3"/>
<line x1="275" y1="603.8" x2="275" y2="616.5" stroke="#000" stroke-width="2.3"/><line x1="277.5" y1="603.8" x2="277.5" y2="616.5" stroke="#000" stroke-width="2.3"/><line x1="315.9" y1="603.8" x2="315.9" y2="616.5" stroke="#000" stroke-width="2.3"/><line x1="336.4" y1="603.8" x2="336.4" y2="616.5" stroke="#000" stroke-width="2.3"/>
<line x1="485" y1="602" x2="485" y2="637" stroke="#000" stroke-width="1.4"/>
<polyline points="68,478 68,484 69,489.6 72.7,496.5 75,507 77.3,515 81,520 86.5,526.5 94,531 100,532 105,536 111,547 140,547 144,552.5 154,552.5 154,559.5 175,559.5 176,574 189,574 190,582.7 233.7,582.7 233.7,596 264.2,596 264.2,622.3 485,622.3" fill="none" stroke="#000" stroke-width="3.3" stroke-linejoin="miter" stroke-dasharray="3 3"/>
<line x1="100.5" y1="526" x2="100.5" y2="540" stroke="#000" stroke-width="2.3"/>
<line x1="105" y1="530" x2="105" y2="542.5" stroke="#000" stroke-width="2.3"/>
<line x1="121.2" y1="543.5" x2="121.2" y2="555.4" stroke="#000" stroke-width="4.2"/>
<line x1="135.4" y1="543.5" x2="135.4" y2="555.4" stroke="#000" stroke-width="6"/>
<line x1="138.6" y1="550" x2="138.6" y2="560" stroke="#000" stroke-width="1.8"/>
<line x1="153.5" y1="549" x2="153.5" y2="560" stroke="#000" stroke-width="2.3"/>
<line x1="164" y1="554" x2="164" y2="567" stroke="#000" stroke-width="2.4"/><line x1="167.5" y1="554" x2="167.5" y2="567" stroke="#000" stroke-width="2.4"/><line x1="172" y1="554" x2="172" y2="567" stroke="#000" stroke-width="2.4"/>
<line x1="182" y1="569" x2="182" y2="580" stroke="#000" stroke-width="2.4"/><line x1="187" y1="569" x2="187" y2="580" stroke="#000" stroke-width="2.4"/>
<line x1="194.5" y1="577" x2="194.5" y2="590" stroke="#000" stroke-width="2.3"/><line x1="199" y1="577" x2="199" y2="590" stroke="#000" stroke-width="2.3"/><line x1="219.5" y1="577" x2="219.5" y2="590" stroke="#000" stroke-width="2.3"/><line x1="228" y1="577" x2="228" y2="590" stroke="#000" stroke-width="2.3"/><line x1="232.5" y1="577" x2="232.5" y2="590" stroke="#000" stroke-width="2.3"/>
<line x1="242.5" y1="591" x2="242.5" y2="602.5" stroke="#000" stroke-width="2.3"/><line x1="247" y1="591" x2="247" y2="602.5" stroke="#000" stroke-width="2.3"/><line x1="258" y1="591" x2="258" y2="602.5" stroke="#000" stroke-width="2.3"/><line x1="261" y1="591" x2="261" y2="602.5" stroke="#000" stroke-width="2.3"/>
<line x1="277.5" y1="617" x2="277.5" y2="630.7" stroke="#000" stroke-width="2.3"/><line x1="285.8" y1="617" x2="285.8" y2="630.7" stroke="#000" stroke-width="2.3"/><line x1="315.9" y1="617" x2="315.9" y2="630.7" stroke="#000" stroke-width="2.3"/><line x1="336.4" y1="617" x2="336.4" y2="630.7" stroke="#000" stroke-width="2.3"/>
<polyline points="55,446 58,457 60.9,467 62.2,480 63.2,492 64.3,500 66.8,515 70,530 73.2,544 76.4,566 81.6,582" fill="none" stroke="#000" stroke-width="5.4" stroke-linejoin="miter"/>
<polyline points="81.6,582 84.6,596 90.8,597.7 92.3,611.5 100,616 103.8,626.5" fill="none" stroke="#000" stroke-width="5.2" stroke-linejoin="miter"/>
<polyline points="103,627.3 119.5,628.3 120,632 134,632" fill="none" stroke="#000" stroke-width="4.4" stroke-linejoin="miter"/>
<polyline points="133.5,631.5 140,643 149,646 151.7,651.7 181.3,651.7 182,658.5 298,658.5" fill="none" stroke="#000" stroke-width="3.6" stroke-linejoin="miter"/>
<polyline points="58,448 61,457 63.7,467 65.1,480 66.3,492 67.5,500 70.3,515 73.5,530 76.7,544 79.9,566 84.5,579 87,581 90,588 92.7,592 99,599.5 104.6,606.6 118,607 118,615 158.5,615 161.3,620 161.3,625.8 189,625.8 189,633.5 191,637 279,637" fill="none" stroke="#000" stroke-width="3.3" stroke-linejoin="miter" stroke-dasharray="3 3"/>
<polyline points="83,590 84,606 91,618.6 97,627 103.8,634.4 133,634.4 134.4,644 134.4,651.7 137.3,656.5 142,659.4 142,672 144,676.7 296,676.7" fill="none" stroke="#000" stroke-width="3.3" stroke-linejoin="miter" stroke-dasharray="3 3"/>
<line x1="87" y1="580" x2="87" y2="609" stroke="#000" stroke-width="1.6"/>
<line x1="103.7" y1="610" x2="103.7" y2="628.6" stroke="#000" stroke-width="1.6"/>
<line x1="109.4" y1="627" x2="109.4" y2="639" stroke="#000" stroke-width="1.6"/><line x1="119" y1="627" x2="119" y2="639" stroke="#000" stroke-width="1.6"/>
<line x1="135.4" y1="613" x2="135.4" y2="633.5" stroke="#000" stroke-width="1.6"/>
<line x1="150.2" y1="613" x2="150.2" y2="624.8" stroke="#000" stroke-width="2.3"/><line x1="152.7" y1="613" x2="152.7" y2="624.8" stroke="#000" stroke-width="2.3"/>
<line x1="176.7" y1="623" x2="176.7" y2="634.4" stroke="#000" stroke-width="2.3"/><line x1="181" y1="623" x2="181" y2="634.4" stroke="#000" stroke-width="2.3"/>
<line x1="197" y1="635" x2="197" y2="647.5" stroke="#000" stroke-width="2.3"/><line x1="201" y1="635" x2="201" y2="647.5" stroke="#000" stroke-width="2.3"/><line x1="204" y1="635" x2="204" y2="647.5" stroke="#000" stroke-width="2.3"/><line x1="206" y1="635" x2="206" y2="647.5" stroke="#000" stroke-width="2.3"/><line x1="208" y1="635" x2="208" y2="647.5" stroke="#000" stroke-width="2.3"/><line x1="222.5" y1="635" x2="222.5" y2="647.5" stroke="#000" stroke-width="2.3"/><line x1="232.5" y1="635" x2="232.5" y2="647.5" stroke="#000" stroke-width="2.3"/><line x1="245.5" y1="635" x2="245.5" y2="647.5" stroke="#000" stroke-width="2.3"/><line x1="261" y1="635" x2="261" y2="647.5" stroke="#000" stroke-width="2.3"/><line x1="279" y1="635" x2="279" y2="647.5" stroke="#000" stroke-width="2.3"/>
<line x1="148.8" y1="669.8" x2="148.8" y2="681.5" stroke="#000" stroke-width="2.3"/><line x1="157.4" y1="669.8" x2="157.4" y2="681.5" stroke="#000" stroke-width="2.3"/><line x1="170.3" y1="669.8" x2="170.3" y2="681.5" stroke="#000" stroke-width="2.3"/>
<line x1="296" y1="670" x2="296" y2="682" stroke="#000" stroke-width="1.8"/>
<line x1="151.2" y1="642" x2="151.2" y2="653" stroke="#000" stroke-width="3.6"/>
<line x1="152.8" y1="651" x2="152.8" y2="658" stroke="#000" stroke-width="1.8"/>
<line x1="170.3" y1="646" x2="170.3" y2="658" stroke="#000" stroke-width="2.3"/><line x1="176.3" y1="646" x2="176.3" y2="658" stroke="#000" stroke-width="2.3"/><line x1="181.2" y1="646" x2="181.2" y2="658" stroke="#000" stroke-width="2.3"/>
<line x1="186.2" y1="652.5" x2="186.2" y2="664.8" stroke="#000" stroke-width="2.3"/>
<line x1="195.9" y1="652.5" x2="195.9" y2="664.8" stroke="#000" stroke-width="3.4"/>
<line x1="201" y1="652" x2="201" y2="664.8" stroke="#000" stroke-width="2.3"/><line x1="204" y1="652" x2="204" y2="664.8" stroke="#000" stroke-width="2.3"/><line x1="206" y1="652" x2="206" y2="664.8" stroke="#000" stroke-width="2.3"/><line x1="208" y1="652" x2="208" y2="664.8" stroke="#000" stroke-width="2.3"/><line x1="222.5" y1="652" x2="222.5" y2="664.8" stroke="#000" stroke-width="2.3"/><line x1="232.5" y1="652" x2="232.5" y2="664.8" stroke="#000" stroke-width="2.3"/><line x1="245.5" y1="652" x2="245.5" y2="664.8" stroke="#000" stroke-width="2.3"/><line x1="261" y1="652" x2="261" y2="664.8" stroke="#000" stroke-width="2.3"/><line x1="279" y1="652" x2="279" y2="664.8" stroke="#000" stroke-width="2.3"/><line x1="285" y1="652" x2="285" y2="664.8" stroke="#000" stroke-width="2.3"/><line x1="289" y1="652" x2="289" y2="664.8" stroke="#000" stroke-width="2.3"/>
<line x1="297.6" y1="651.5" x2="297.6" y2="665.5" stroke="#000" stroke-width="3.6"/>
<text x="410.4" y="603" font-size="17" text-anchor="start" textLength="36.9" lengthAdjust="spacingAndGlyphs">TMA</text>
<text x="459.5" y="603" font-size="17" text-anchor="start" textLength="39.3" lengthAdjust="spacingAndGlyphs">GCB</text>
<text x="409.7" y="642.3" font-size="17" text-anchor="start" textLength="93" lengthAdjust="spacingAndGlyphs">cDNA GCB</text>
<text x="287.2" y="644.5" font-size="17.5" text-anchor="start" textLength="92.3" lengthAdjust="spacingAndGlyphs">cDNA ABC</text>
<text x="300.8" y="665.6" font-size="17.5" text-anchor="start" textLength="122.6" lengthAdjust="spacingAndGlyphs">TMA non-GCB</text>
<text x="303.7" y="682" font-size="17.5" text-anchor="start" textLength="104.1" lengthAdjust="spacingAndGlyphs">cDNA type 3</text>
</svg>
</body></html>
